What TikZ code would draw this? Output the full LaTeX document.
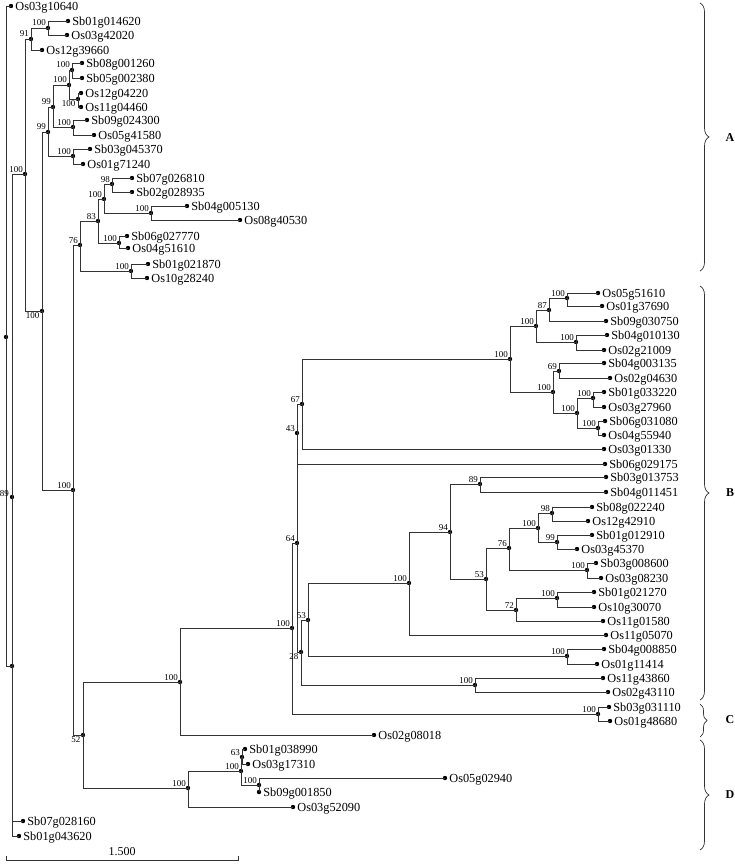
\documentclass[tikz,border=0pt]{standalone}
\usepackage{fontspec}
\setmainfont{Liberation Serif}
\usetikzlibrary{decorations.pathreplacing}
\begin{document}
\begin{tikzpicture}[x=1pt,y=-1pt,
  br/.style={draw=black!80, line width=0.8pt},
  dot/.style={circle, fill=black, inner sep=0pt, minimum size=4.4pt},
  lf/.style={anchor=base west, inner sep=0pt, font=\fontsize{12.3}{12}\selectfont},
  bs/.style={anchor=base east, inner sep=0pt, font=\fontsize{9}{9}\selectfont},
  bsb/.style={anchor=north east, inner sep=0pt, font=\fontsize{9}{9}\selectfont},
  clade/.style={font=\bfseries\fontsize{12}{12}\selectfont, inner sep=0pt},
  bracestyle/.style={draw=black!80, line width=0.7pt, decorate, decoration={brace, amplitude=9pt}}]
\useasboundingbox (0,0) rectangle (735,864);
% internal nodes
\foreach \n/\p in {r/{6,337}, nX/{12,666}, n89/{12,497}, nA/{25,174}, n91/{31,39}, n100a/{48,28},
  nB/{42,311}, n99a/{48,132}, n99b/{53,107}, n100b/{69,85}, n100c/{72,70}, n100d/{78,99},
  n100e/{73,127}, n100f/{73,156}, n100g/{73,490}, n76/{80,245}, n83/{98,221}, n100h/{104,199},
  n98/{112,184}, n100i/{151,213}, n100j/{119,243}, n100k/{131,271}, n52/{83,735}, n100l/{180,682},
  n100m/{292,628}, n64/{297,543}, n43/{297,433}, n67/{302,404}, n100n/{510,359}, n100o/{536,326},
  n87/{549,310}, n100p/{567,298}, n100q/{576,342}, n100r/{553,392}, n69/{559,371}, n100s/{577,413},
  n100t/{593,398}, n100u/{598,428}, n28/{301,652}, n53a/{308,620}, n100v/{409,583}, n94/{450,532},
  n89b/{480,484}, n53b/{486,579}, n76b/{509,548}, n100w/{538,528}, n98b/{552,513}, n99c/{557,542},
  n100x/{587,570}, n72/{516,610}, n100y/{557,598}, n100z/{567,656}, n100aa/{475,685}, nC/{598,714},
  nD/{188,788}, n100ab/{241,771}, n63/{242,757}, n100ac/{259,785}}
  \node[dot] (\n) at (\p) {};
% leaves
\foreach \n/\p in {Os03g10640/{11,6}, Sb01g014620/{68,21}, Os03g42020/{67,35}, Os12g39660/{42,50},
  Sb08g001260/{82,63}, Sb05g002380/{82,78}, Os12g04220/{81,93}, Os11g04460/{81,107},
  Sb09g024300/{87,120}, Os05g41580/{94,135}, Sb03g045370/{90,149}, Os01g71240/{83,164},
  Sb07g026810/{132,178}, Sb02g028935/{132,192}, Sb04g005130/{187,206}, Os08g40530/{240,220},
  Sb06g027770/{127,236}, Os04g51610/{128,248}, Sb01g021870/{148,264}, Os10g28240/{147,278},
  Os05g51610/{598,293}, Os01g37690/{602,306}, Sb09g030750/{606,321}, Sb04g010130/{607,335},
  Os02g21009/{604,350}, Sb04g003135/{604,363}, Os02g04630/{610,378}, Sb01g033220/{604,392},
  Os03g27960/{604,407}, Sb06g031080/{605,421}, Os04g55940/{604,435}, Os03g01330/{604,449},
  Sb06g029175/{605,464}, Sb03g013753/{606,477}, Sb04g011451/{606,492}, Sb08g022240/{592,507},
  Os12g42910/{588,521}, Sb01g012910/{592,535}, Os03g45370/{577,549}, Sb03g008600/{596,563},
  Os03g08230/{601,578}, Sb01g021270/{594,592}, Os10g30070/{594,607}, Os11g01580/{603,621},
  Os11g05070/{606,635}, Sb04g008850/{604,649}, Os01g11414/{597,664}, Os11g43860/{603,678},
  Os02g43110/{608,692}, Sb03g031110/{609,707}, Os01g48680/{610,721}, Os02g08018/{374,735},
  Sb01g038990/{245,749}, Os03g17310/{248,764}, Os05g02940/{445,778}, Sb09g001850/{259,792},
  Os03g52090/{293,807}, Sb07g028160/{23,821}, Sb01g043620/{19,836}}
  {\node[dot] (\n) at (\p) {};
   \node[lf] (\n-t) at ([xshift=1.8pt,yshift=-4.2pt]\n.east) {\n};}
% branches
\foreach \a/\b in {r/Os03g10640, r/nX, nX/n89, nX/Sb01g043620, n89/nA, n89/Sb07g028160,
  nA/n91, nA/nB, n91/n100a, n91/Os12g39660, n100a/Sb01g014620, n100a/Os03g42020,
  nB/n99a, nB/n100g, n99a/n99b, n99a/n100f, n99b/n100b, n99b/n100e, n100b/n100c, n100b/n100d,
  n100c/Sb08g001260, n100c/Sb05g002380, n100d/Os12g04220, n100d/Os11g04460,
  n100e/Sb09g024300, n100e/Os05g41580, n100f/Sb03g045370, n100f/Os01g71240,
  n100g/n76, n100g/n52, n76/n83, n76/n100k, n83/n100h, n83/n100j, n100h/n98, n100h/n100i,
  n98/Sb07g026810, n98/Sb02g028935, n100i/Sb04g005130, n100i/Os08g40530,
  n100j/Sb06g027770, n100j/Os04g51610, n100k/Sb01g021870, n100k/Os10g28240,
  n52/n100l, n52/nD, n100l/n100m, n100l/Os02g08018, n100m/n64, n100m/nC,
  n64/n43, n64/n28, n43/n67, n43/Sb06g029175, n67/n100n, n67/Os03g01330,
  n100n/n100o, n100n/n100r, n100o/n87, n100o/n100q, n87/n100p, n87/Sb09g030750,
  n100p/Os05g51610, n100p/Os01g37690, n100q/Sb04g010130, n100q/Os02g21009,
  n100r/n69, n100r/n100s, n69/Sb04g003135, n69/Os02g04630, n100s/n100t, n100s/n100u,
  n100t/Sb01g033220, n100t/Os03g27960, n100u/Sb06g031080, n100u/Os04g55940,
  n28/n53a, n28/n100aa, n53a/n100v, n53a/n100z, n100v/n94, n100v/Os11g05070,
  n94/n89b, n94/n53b, n89b/Sb03g013753, n89b/Sb04g011451, n53b/n76b, n53b/n72,
  n76b/n100w, n76b/n100x, n100w/n98b, n100w/n99c, n98b/Sb08g022240, n98b/Os12g42910,
  n99c/Sb01g012910, n99c/Os03g45370, n100x/Sb03g008600, n100x/Os03g08230,
  n72/n100y, n72/Os11g01580, n100y/Sb01g021270, n100y/Os10g30070,
  n100z/Sb04g008850, n100z/Os01g11414, n100aa/Os11g43860, n100aa/Os02g43110,
  nC/Sb03g031110, nC/Os01g48680, nD/n100ab, nD/Os03g52090, n100ab/n63, n100ab/n100ac,
  n63/Sb01g038990, n63/Os03g17310, n100ac/Os05g02940, n100ac/Sb09g001850}
  \draw[br] (\a.center) |- (\b.center);
% bootstrap values (above-left)
\foreach \n/\t in {nA/100, n91/91, n100a/100, n99a/99, n99b/99, n100b/100, n100c/100,
  n100e/100, n100f/100, n100g/100, n76/76, n83/83, n100h/100, n98/98, n100i/100, n100j/100,
  n100k/100, n100l/100, n100m/100, n64/64, n43/43, n67/67, n100n/100, n100o/100, n87/87,
  n100p/100, n100q/100, n100r/100, n69/69, n100s/100, n100t/100, n100u/100, n53a/53,
  n100v/100, n94/94, n89b/89, n53b/53, n76b/76, n100w/100, n98b/98, n99c/99, n100x/100,
  n72/72, n100y/100, n100z/100, n100aa/100, nC/100, nD/100, n100ab/100, n63/63, n100ac/100}
  \node[bs] (\n-b) at ([xshift=-2pt,yshift=2pt]\n.center) {\t};
% bootstrap values (below-left)
\foreach \n/\t in {nB/100, n100d/100, n28/28, n52/52}
  \node[bsb] (\n-b) at ([xshift=-2.5pt,yshift=-1.5pt]\n.center) {\t};
\node[anchor=east, inner sep=0pt, font=\fontsize{9}{9}\selectfont] (n89-b) at ([xshift=-3pt,yshift=3pt]n89.center) {89};
% clade braces
\coordinate (Aa) at (700,3);   \coordinate (Ab) at (700,271);
\coordinate (Ba) at (700,286); \coordinate (Bb) at (700,700);
\coordinate (Ca) at (700,704); \coordinate (Cb) at (700,737);
\coordinate (Da) at (700,740); \coordinate (Db) at (700,850);
\draw[bracestyle] (Aa) -- (Ab);
\draw[bracestyle] (Ba) -- (Bb);
\draw[bracestyle, decoration={brace, amplitude=7pt}] (Ca) -- (Cb);
\draw[bracestyle] (Da) -- (Db);
\node[clade] (lA) at (730,138) {A};
\node[clade] (lB) at (730,493) {B};
\node[clade] (lC) at (730,720) {C};
\node[clade] (lD) at (730,795) {D};
% scale bar
\coordinate (s1) at (6,860); \coordinate (s2) at (238,860);
\draw[br, line width=0.6pt] ([yshift=4pt]s1) -- (s1) -- (s2) -- ([yshift=4pt]s2);
\node[font=\fontsize{12}{12}\selectfont, inner sep=0pt, anchor=base] (scl) at (122,855) {1.500};
\end{tikzpicture}
\end{document}
